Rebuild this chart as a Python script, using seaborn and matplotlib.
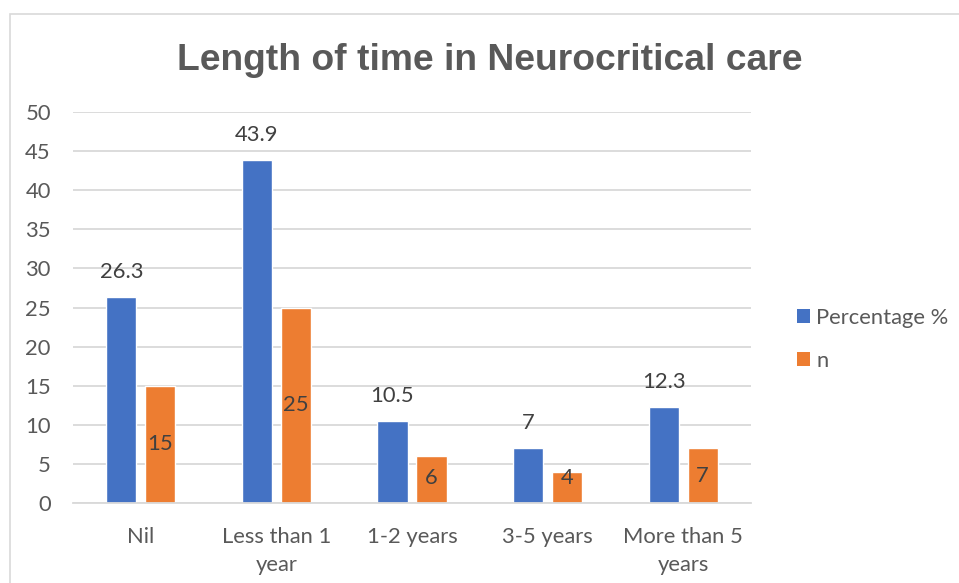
import matplotlib
matplotlib.use("Agg")
import matplotlib.pyplot as plt
from matplotlib.patches import Rectangle, Patch
import seaborn as sns
import pandas as pd

categories = ["Nil", "Less than 1\nyear", "1-2 years", "3-5 years", "More than 5\nyears"]
percentage = [26.3, 43.9, 10.5, 7, 12.3]
counts = [15, 25, 6, 4, 7]
series_names = ["Percentage %", "n"]
colors = ["#4472C4", "#ED7D31"]
yticks = [0, 5, 10, 15, 20, 25, 30, 35, 40, 45, 50]

df = pd.DataFrame({"category": categories, series_names[0]: percentage, series_names[1]: counts})
long = df.melt(id_vars="category", var_name="series", value_name="value")

sns.set_theme(style="white")
plt.rcParams["font.family"] = ["Lato", "DejaVu Sans"]

FS = 15.8

fig = plt.figure(figsize=(9.59, 5.83), dpi=100)
fig.patches.append(Rectangle((10 / 959, -0.1), 1.2, 1 - 14 / 583 + 0.1, transform=fig.transFigure,
                             fill=False, edgecolor="#d9d9d9", linewidth=1.2))
ax = fig.add_axes([73 / 959, 1 - 503 / 583, (751 - 73) / 959, (503 - 112) / 583])

sns.barplot(data=long, x="category", y="value", hue="series", palette=colors,
            width=0.576, gap=0.23, ax=ax, legend=False, saturation=1)

ax.set_xlim(-0.5, len(categories) - 0.5)
ax.set_ylim(0, 50)
ax.set_yticks(yticks)
ax.yaxis.grid(True, color="#d9d9d9", linewidth=1.3)
ax.set_axisbelow(True)
for s in ["top", "right", "left"]:
    ax.spines[s].set_visible(False)
ax.spines["bottom"].set_color("#d9d9d9")
ax.spines["bottom"].set_linewidth(1.3)
ax.tick_params(axis="y", length=0, pad=16, labelsize=FS, labelcolor="#595959")
ax.tick_params(axis="x", length=0, pad=17, labelsize=FS, labelcolor="#595959")
ax.set_xlabel("")
ax.set_ylabel("")
for lbl in ax.get_xticklabels():
    lbl.set_linespacing(1.5)

# value labels: percentages above bars, counts inside bars
pct_bars = ax.containers[0]
n_bars = ax.containers[1]
for bar, v in zip(pct_bars, percentage):
    ax.annotate(f"{v:g}", (bar.get_x() + bar.get_width() / 2, v), xytext=(0, 18),
                textcoords="offset points", ha="center", va="center",
                fontsize=FS, color="#404040")
for bar, v in zip(n_bars, counts):
    ax.text(bar.get_x() + bar.get_width() / 2, max(v / 2, 3.2), f"{v:g}",
            ha="center", va="center", fontsize=FS, color="#404040")

handles = [Patch(facecolor=c, edgecolor="none") for c in colors]
fig.legend(handles, series_names, loc="upper left", bbox_to_anchor=(777 / 959, 1 - 288 / 583),
           frameon=False, fontsize=FS, labelcolor="#595959", handlelength=0.6, handleheight=0.6,
           handletextpad=0.3, labelspacing=1.05)

fig.text(490 / 959, 1 - 60 / 583, "Length of time in Neurocritical care", ha="center", va="center",
         fontsize=26.8, fontweight="bold", color="#595959", family=["Liberation Sans", "DejaVu Sans"])

fig.savefig("out.png", dpi=100, facecolor="white")
